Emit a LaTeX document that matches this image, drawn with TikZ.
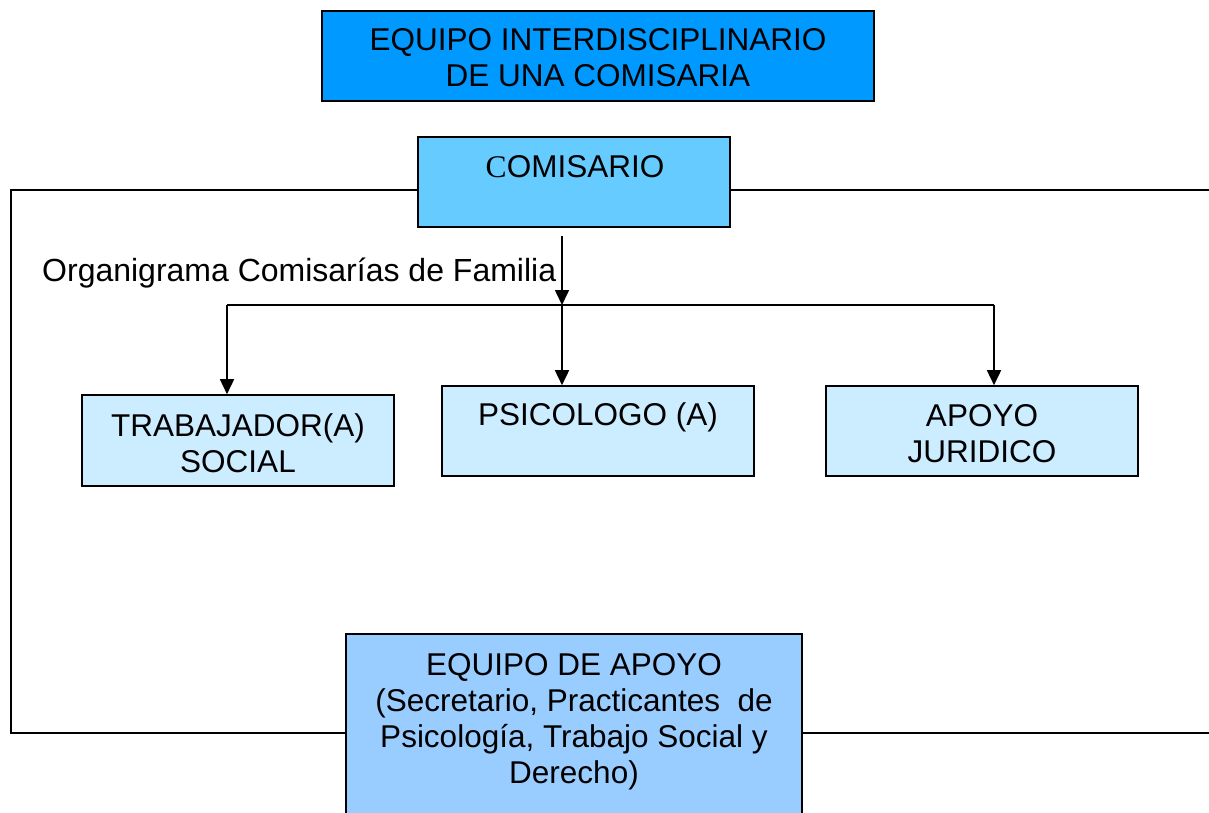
\documentclass[tikz,border=0pt]{standalone}
\usepackage{fontspec}
\setmainfont{Liberation Sans}
\newfontfamily\serifC{Liberation Serif}
\usetikzlibrary{arrows.meta}
\definecolor{titleblue}{RGB}{0,153,255}
\definecolor{comblue}{RGB}{102,204,255}
\definecolor{paleblue}{RGB}{204,236,255}
\definecolor{teamblue}{RGB}{153,204,255}
\begin{document}
\begin{tikzpicture}[x=1pt,y=-1pt,
  box/.style={draw=black,line width=1.6pt,inner sep=0pt,rectangle},
  conn/.style={draw=black,line width=1.6pt},
  arr/.style={conn,-{Triangle[width=14pt,length=15pt]}},
  txt/.style={anchor=base,inner sep=0pt,align=center,font=\fontsize{31.5}{36}\selectfont}]
\useasboundingbox (0,0) rectangle (1209,813);
\clip (0,0) rectangle (1209,813);
\fill[white] (0,0) rectangle (1209,813);
% boxes
\node[box,fill=titleblue,minimum width=552pt,minimum height=90pt] (title) at (598,56) {};
\node[box,fill=comblue,minimum width=312pt,minimum height=90pt] (comisario) at (574,182) {};
\node[box,fill=paleblue,minimum width=312pt,minimum height=91pt] (trab) at (238,440.5) {};
\node[box,fill=paleblue,minimum width=312pt,minimum height=90pt] (psic) at (598,431) {};
\node[box,fill=paleblue,minimum width=312pt,minimum height=90pt] (jur) at (982,431) {};
\node[box,fill=teamblue,minimum width=456pt,minimum height=196pt] (team) at (574,732) {};
% frame
\coordinate (fl) at (11,190);
\coordinate (bl) at (11,733);
\coordinate (fr) at (1225,190);
\coordinate (br) at (1225,733);
\draw[conn] (comisario.west |- fl) -- (fl) -- (bl) -- (team.west |- bl);
\draw[conn] (comisario.east |- fr) -- (fr);
\draw[conn] (team.east |- br) -- (br);
% connectors
\coordinate (c0) at (562,236);
\coordinate (bus) at (562,305);
\coordinate (b1) at (227,305);
\coordinate (b3) at (994,305);
\draw[arr] (c0) -- (bus);
\draw[conn] (b1) -- (b3);
\draw[arr] (b1) -- (b1 |- trab.north);
\draw[arr] (bus) -- (bus |- psic.north);
\draw[arr] (b3) -- (b3 |- jur.north);
% texts (anchor base = baseline of last line)
\node[txt] (titletxt) at (598,87) {EQUIPO INTERDISCIPLINARIO\\DE UNA COMISARIA};
\node[txt] (comtxt) at (575,178) {{\serifC C}OMISARIO};
\node[txt] (trabtxt) at (238,472) {TRABAJADOR(A)\\SOCIAL};
\node[txt] (psictxt) at (598,425) {PSICOLOGO (A)};
\node[txt] (jurtxt) at (982,462) {APOYO\\JURIDICO};
\node[txt] (teamtxt) at (574,783) {EQUIPO DE APOYO\\(Secretario, Practicantes \ de\\Psicología, Trabajo Social y\\Derecho)};
\node[txt,anchor=base west,font=\fontsize{32}{36}\selectfont] (org) at (42,281) {Organigrama Comisarías de Familia};
\end{tikzpicture}
\end{document}
